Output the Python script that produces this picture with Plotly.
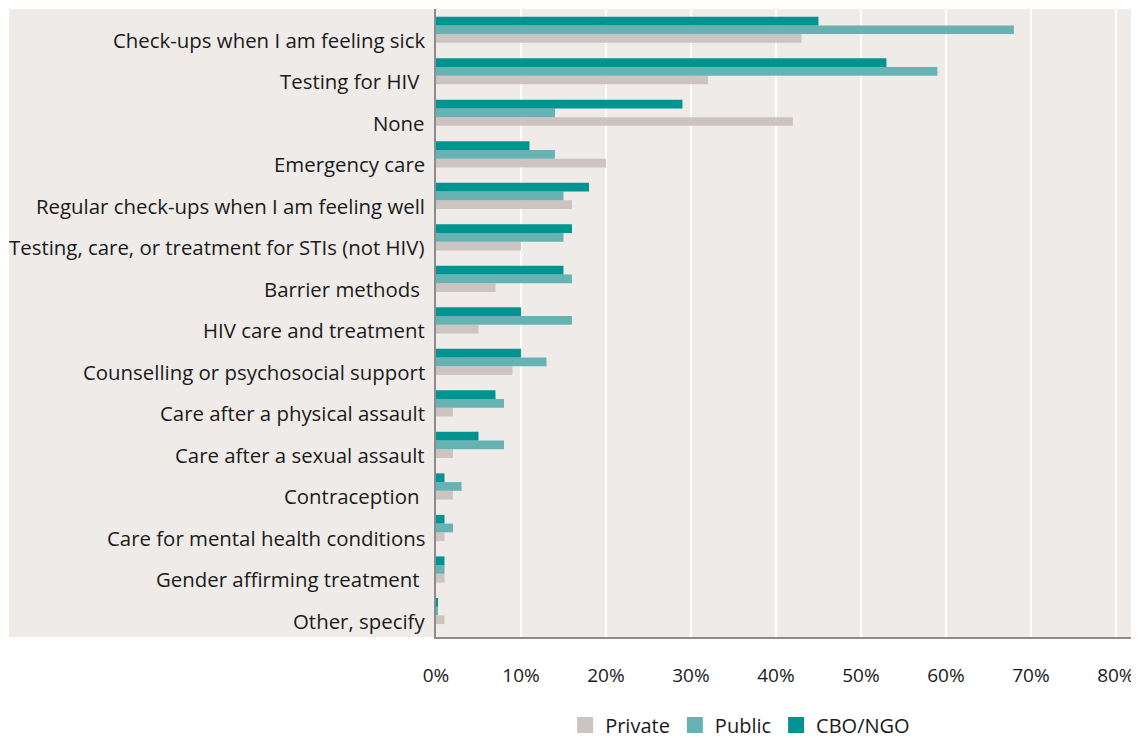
import plotly.graph_objects as go

categories = [
    "Check-ups when I am feeling sick",
    "Testing for HIV ",
    "None",
    "Emergency care",
    "Regular check-ups when I am feeling well",
    "Testing, care, or treatment for STIs (not HIV)",
    "Barrier methods ",
    "HIV care and treatment",
    "Counselling or psychosocial support",
    "Care after a physical assault",
    "Care after a sexual assault",
    "Contraception ",
    "Care for mental health conditions",
    "Gender affirming treatment ",
    "Other, specify",
]
private = [43, 32, 42, 20, 16, 10, 7, 5, 9, 2, 2, 2, 1, 1, 1]
public = [68, 59, 14, 14, 15, 15, 16, 16, 13, 8, 8, 3, 2, 1, 0.2]
cbo_ngo = [45, 53, 29, 11, 18, 16, 15, 10, 10, 7, 5, 1, 1, 1, 0.2]
x_ticks = [0, 10, 20, 30, 40, 50, 60, 70, 80]
x_tick_labels = ["0%", "10%", "20%", "30%", "40%", "50%", "60%", "70%", "80%"]

colors = {"Private": "#cdc3c1", "Public": "#67b3b4", "CBO/NGO": "#009490"}
bg = "#efebe8"
font_family = "'Open Sans', sans-serif"
text_color = "#1a1a1a"

fig = go.Figure()
series = [("Private", private), ("Public", public), ("CBO/NGO", cbo_ngo)]
for name, vals in series:
    fig.add_trace(go.Bar(
        name=name, y=categories, x=vals, orientation="h",
        marker=dict(color=colors[name], line=dict(width=0)),
        showlegend=False,
    ))
# legend entries with larger square swatches
for name, _ in series:
    fig.add_trace(go.Scatter(
        name=name, x=[None], y=[None], mode="markers",
        marker=dict(symbol="square", size=19, color=colors[name], line=dict(width=0)),
        showlegend=True, hoverinfo="skip",
    ))

# page body has an 8px margin: figure origin sits at (8, 8) in the screenshot
W, H = 1131, 746
L, R, T, B = 428, 7, 1, 117
plot_w = W - L - R

fig.add_shape(type="rect", xref="paper", yref="paper",
              x0=(1 - L) / plot_w, x1=1, y0=0, y1=1,
              fillcolor=bg, line=dict(width=0), layer="below")

# category labels (sit slightly below the bar-group centre, as in the reference)
for cat in categories:
    fig.add_annotation(x=0, xref="paper", y=cat, yref="y", text=cat.replace(" ", "\u00a0"),
                       showarrow=False, xanchor="right", yanchor="middle",
                       xshift=-9, yshift=-10,
                       font=dict(family=font_family, size=20.4, color=text_color))

fig.update_layout(
    width=W, height=H,
    margin=dict(l=L, r=R, t=T, b=B),
    paper_bgcolor="white",
    plot_bgcolor=bg,
    barmode="group",
    bargap=0.37,
    bargroupgap=0,
    font=dict(family=font_family, size=19, color=text_color),
    legend=dict(orientation="h", x=0.437, xanchor="center", y=-0.14, yanchor="middle",
                font=dict(size=20), itemwidth=30, traceorder="normal", itemsizing="trace",
                bgcolor="rgba(0,0,0,0)"),
    xaxis=dict(range=[0, 81.9], tickvals=x_ticks, ticktext=x_tick_labels,
               showgrid=True, gridcolor="white", gridwidth=2,
               showline=True, linecolor="#8c8c8c", linewidth=2,
               ticks="outside", ticklen=20, tickcolor="rgba(0,0,0,0)",
               zeroline=False, tickfont=dict(size=19)),
    yaxis=dict(categoryorder="array", categoryarray=categories[::-1],
               showgrid=False, showline=True, linecolor="#8c8c8c", linewidth=2,
               ticks="", showticklabels=False),
)

fig.write_html("out.html")
